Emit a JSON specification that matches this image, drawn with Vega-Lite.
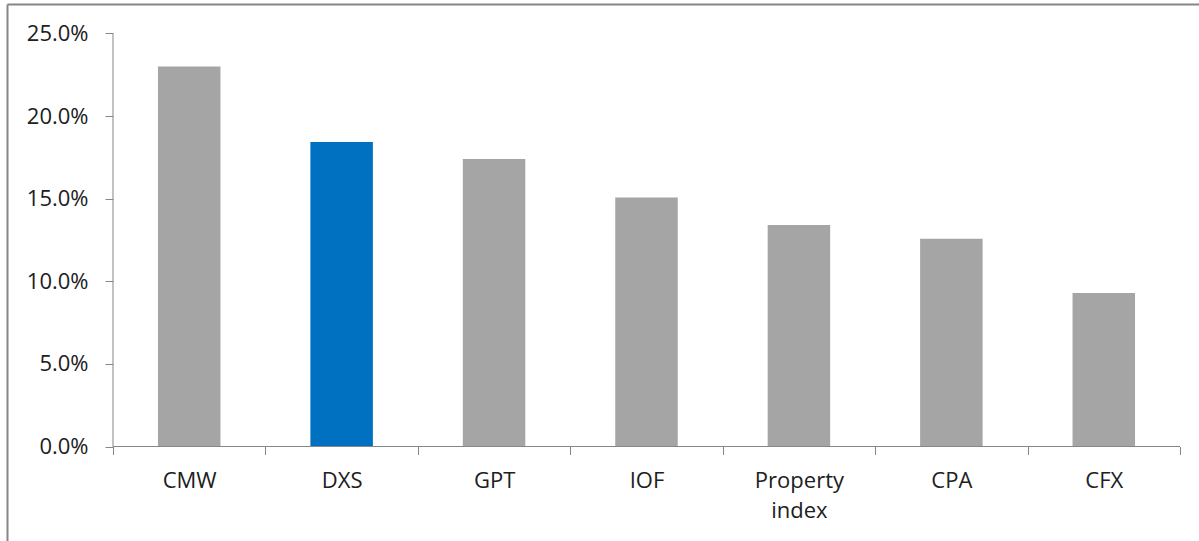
{
  "$schema": "https://vega.github.io/schema/vega-lite/v6.json",
  "width": 1192,
  "height": 537,
  "autosize": {"type": "none"},
  "padding": {"left": 7, "top": 4, "right": 0, "bottom": 0},
  "background": "white",
  "config": {"view": {"stroke": null}, "font": "Open Sans"},
  "data": {
    "values": [
      {"company": "CMW", "value": 0.2300},
      {"company": "DXS", "value": 0.1843},
      {"company": "GPT", "value": 0.1740},
      {"company": "IOF", "value": 0.1508},
      {"company": "Property index", "value": 0.1341},
      {"company": "CPA", "value": 0.1258},
      {"company": "CFX", "value": 0.0929}
    ]
  },
  "resolve": {"axis": {"x": "independent", "y": "independent"}},
  "layer": [
    {
      "mark": {"type": "bar", "width": {"band": 0.41}},
      "encoding": {
        "x": {
          "field": "company",
          "type": "nominal",
          "sort": null,
          "scale": {"paddingInner": 0, "paddingOuter": 0.41, "align": 0.848},
          "axis": {
            "orient": "bottom",
            "offset": -94.5,
            "title": null,
            "domain": false,
            "labelAngle": 0,
            "tickBand": "extent",
            "labelExpr": "split(datum.label, ' ')",
            "labelFont": "Open Sans",
            "labelFontSize": 22,
            "labelColor": "#202020",
            "labelPadding": 16,
            "labelLineHeight": 30,
            "tickColor": "#868686",
            "tickSize": 8,
            "labelBaseline": "top"
          }
        },
        "y": {
          "field": "value",
          "type": "quantitative",
          "scale": {"domain": [-0.057203, 0.267857], "nice": false, "zero": false},
          "axis": {
            "orient": "left",
            "offset": -106,
            "title": null,
            "domain": false,
            "format": ".1%",
            "values": [0, 0.05, 0.1, 0.15, 0.2, 0.25],
            "grid": false,
            "labelFont": "Open Sans",
            "labelFontSize": 22,
            "labelColor": "#202020",
            "labelPadding": 17,
            "tickColor": "#868686",
            "tickSize": 8
          }
        },
        "y2": {"datum": 0},
        "color": {
          "field": "company",
          "type": "nominal",
          "legend": null,
          "scale": {
            "domain": ["CMW", "DXS", "GPT", "IOF", "Property index", "CPA", "CFX"],
            "range": ["#A5A5A5", "#0070C0", "#A5A5A5", "#A5A5A5", "#A5A5A5", "#A5A5A5", "#A5A5A5"]
          }
        }
      }
    },
    {
      "transform": [{"filter": "datum.company == 'CMW'"}],
      "mark": {"type": "rule", "color": "#868686", "strokeWidth": 1},
      "encoding": {
        "x": {
          "field": "company",
          "type": "nominal",
          "sort": null,
          "bandPosition": 0,
          "axis": {
            "orient": "top",
            "offset": 0,
            "title": null,
            "labels": false,
            "ticks": false,
            "domain": true,
            "domainColor": "#868686",
            "domainWidth": 2
          }
        },
        "y": {
          "datum": 0,
          "type": "quantitative",
          "axis": {
            "orient": "left",
            "offset": 0,
            "title": null,
            "labels": false,
            "ticks": false,
            "grid": false,
            "domain": true,
            "domainColor": "#868686",
            "domainWidth": 2
          }
        },
        "y2": {"datum": 0.25}
      }
    },
    {
      "mark": {"type": "bar", "width": {"band": 1}, "fill": null, "fillOpacity": 0, "stroke": "#868686", "strokeWidth": 1},
      "encoding": {
        "x": {"field": "company", "type": "nominal", "sort": null, "axis": null},
        "y": {"datum": 0, "type": "quantitative", "axis": null},
        "y2": {"datum": 0}
      }
    }
  ]
}
